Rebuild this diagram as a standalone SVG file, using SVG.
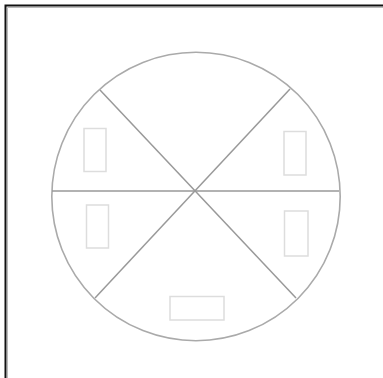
<svg xmlns="http://www.w3.org/2000/svg" width="383" height="378" viewBox="0 0 383 378">
<style>
.frame{fill:none;stroke:#111;stroke-width:2}
.shadow{fill:none;stroke:#bbb;stroke-width:1}
.ring{fill:none;stroke:#aaa;stroke-width:1.6}
.div{stroke:#999;stroke-width:1.5;fill:none}
.box{fill:#fff;stroke:#ddd;stroke-width:1.5}
</style>
<rect width="383" height="378" fill="#fff"/>
<g id="frame">
<path class="frame" d="M5.5,378 V5.5 H383"/>
<path class="shadow" d="M7.5,378 V7.5 H383"/>
</g>
<g id="wheel">
<circle class="ring" cx="196" cy="196.5" r="144.2"/>
</g>
<g id="connectors">
<line class="div" x1="52" y1="191" x2="339" y2="191"/>
<line class="div" x1="100" y1="90" x2="296" y2="298"/>
<line class="div" x1="290" y1="89" x2="95" y2="298"/>
</g>
<g id="box-top-left"><rect class="box" x="84" y="128.5" width="22" height="43"/></g>
<g id="box-top-right"><rect class="box" x="284" y="131.5" width="22" height="43.5"/></g>
<g id="box-bottom-left"><rect class="box" x="86.5" y="205" width="22" height="43"/></g>
<g id="box-bottom-right"><rect class="box" x="284.5" y="211" width="23.5" height="45"/></g>
<g id="box-bottom"><rect class="box" x="170" y="296.5" width="54" height="23.5"/></g>
</svg>
